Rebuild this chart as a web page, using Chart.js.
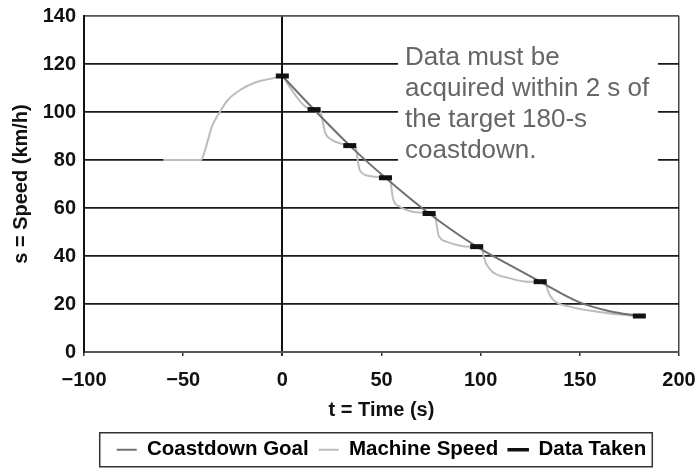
<!DOCTYPE html>
<html>
<head>
<meta charset="utf-8">
<title>Coastdown</title>
<script src="https://cdn.jsdelivr.net/npm/chart.js@4.4.1/dist/chart.umd.min.js"></script>
<style>
  html, body { margin: 0; padding: 0; background: #fff; }
  #wrap { width: 698px; height: 470px; }
</style>
</head>
<body>
<div id="wrap"><canvas id="coastChart" width="698" height="470"></canvas></div>
<script>
// values
const goalTime = [0, 16, 34, 52, 74, 98, 114, 130, 149, 165, 180];
const goalSpeed = [115, 101, 86, 72.6, 57.7, 43.9, 36.5, 29.3, 21, 17, 15];

const machineTime = [-60, -41, -39, -35.5, -31.5, -27.5, -21, -13, -5, 0,
    3, 7, 10.5, 13, 16, 19, 20, 21.5, 25, 30, 34, 37, 38, 39, 44, 52,
    54.3, 55.8, 59.3, 66, 71, 74, 77, 77.8, 78.8, 83, 89.7, 94.7, 98,
    100.7, 101.5, 104.8, 108.3, 113.3, 123.4, 130, 133, 133.7, 136.5, 145,
    158.7, 170.3, 175.3, 180];
const machineSpeed = [80, 80, 84, 94, 100, 105, 109.3, 112.5, 114, 115,
    111.3, 106.5, 103, 101.5, 101, 100.8, 97.5, 91.7, 88.4, 86.7, 86, 85.5, 80, 75.8, 73.3, 72.6,
    71.7, 64, 60.5, 58.4, 58, 57.7, 57.5, 53, 48.6, 45.9, 44.3, 43.9, 43.9,
    43.6, 39.7, 34.3, 32.2, 31, 29.3, 29.3, 28.9, 26, 21.8, 18.9,
    16.8, 15.6, 15.2, 15];

const takenTime = [0, 16, 34, 52, 74, 98, 130, 180];
const takenSpeed = [115, 101, 86, 72.6, 57.7, 43.9, 29.3, 15];

const seriesNames = ['Coastdown Goal', 'Machine Speed', 'Data Taken'];
const xTicks = [-100, -50, 0, 50, 100, 150, 200];
const yTicks = [0, 20, 40, 60, 80, 100, 120, 140];
const noteLines = ['Data must be', 'acquired within 2 s of', 'the target 180-s', 'coastdown.'];

const pairUp = (xs, ys) => xs.map((x, i) => ({ x: x, y: ys[i] }));
const boldFont = { family: '"Liberation Sans", Arial, sans-serif', size: 20, weight: 'bold' };

// box drawn round the legend like in the original
const legendFrame = {
    id: 'legendFrame',
    afterDraw(chart) {
        const boxes = chart.legend && chart.legend.legendHitBoxes;
        if (!boxes || !boxes.length) return;
        const first = boxes[0];
        const last = boxes[boxes.length - 1];
        const cy = first.top + first.height / 2;
        const ctx = chart.ctx;
        ctx.save();
        ctx.strokeStyle = '#333';
        ctx.lineWidth = 1.5;
        ctx.strokeRect(first.left - 17, cy - 17, last.left + last.width - first.left + 23, 34);
        ctx.restore();
    }
};

// the grey note in the upper right, on a white patch that hides the grid
const noteText = {
    id: 'noteText',
    beforeDatasetsDraw(chart) {
        const ctx = chart.ctx;
        ctx.save();
        ctx.fillStyle = '#fff';
        ctx.fillRect(398, 36, 260, 132);
        ctx.font = '26px "Liberation Sans", Arial, sans-serif';
        ctx.fillStyle = '#666';
        ctx.textAlign = 'left';
        ctx.textBaseline = 'alphabetic';
        noteLines.forEach((line, i) => ctx.fillText(line, 405, 65 + i * 31));
        ctx.restore();
    }
};

const ctx = document.getElementById('coastChart').getContext('2d');
new Chart(ctx, {
    type: 'line',
    data: {
        datasets: [{
            label: seriesNames[0],
            data: pairUp(goalTime, goalSpeed),
            borderColor: '#707070',
            borderWidth: 2,
            pointRadius: 0,
            cubicInterpolationMode: 'monotone',
            order: 1
        }, {
            label: seriesNames[1],
            data: pairUp(machineTime, machineSpeed),
            borderColor: '#bdbdbd',
            borderWidth: 2,
            pointRadius: 0,
            cubicInterpolationMode: 'monotone',
            order: 2
        }, {
            label: seriesNames[2],
            data: pairUp(takenTime, takenSpeed),
            showLine: false,
            pointStyle: 'line',
            pointRadius: 6.5,
            pointBorderWidth: 5,
            pointBorderColor: '#111',
            pointBackgroundColor: '#111',
            borderColor: '#111',
            order: 0
        }]
    },
    options: {
        responsive: false,
        animation: false,
        layout: { padding: { left: 0, right: 19, top: 16, bottom: 0 } },
        plugins: {
            tooltip: { enabled: false },
            legend: {
                position: 'bottom',
                fullSize: false,
                labels: {
                    font: { family: '"Liberation Sans", Arial, sans-serif', size: 20.5, weight: 'bold' },
                    color: '#111',
                    boxWidth: 20,
                    boxHeight: 2,
                    padding: 10,
                    generateLabels: chart => chart.data.datasets.map((ds, i) => ({
                        text: ds.label,
                        fillStyle: ds.borderColor,
                        strokeStyle: ds.borderColor,
                        lineWidth: i === 2 ? 1.5 : 0,
                        hidden: false,
                        datasetIndex: i
                    }))
                }
            }
        },
        scales: {
            x: {
                type: 'linear',
                min: -100,
                max: 200,
                afterBuildTicks: scale => { scale.ticks = xTicks.map(v => ({ value: v })); },
                afterFit: scale => {
                    scale.height = 77.5;
                    scale.paddingLeft = 0;
                    scale.paddingRight = 0;
                },
                ticks: {
                    font: boldFont,
                    color: '#111',
                    padding: 12,
                    callback: v => v < 0 ? '\u2212' + Math.abs(v) : String(v)
                },
                grid: {
                    color: c => c.tick && c.tick.value === 0 ? '#111' : (c.tick && c.tick.value === 200 ? '#444' : 'rgba(0,0,0,0)'),
                    lineWidth: c => c.tick && c.tick.value === 0 ? 2 : 1.5,
                    tickColor: '#333',
                    tickLength: 4
                },
                border: { color: '#555', width: 2 },
                title: {
                    display: true,
                    text: 't = Time (s)',
                    font: boldFont,
                    color: '#111',
                    padding: { top: 0, bottom: 7 }
                }
            },
            y: {
                min: 0,
                max: 140,
                afterBuildTicks: scale => { scale.ticks = yTicks.map(v => ({ value: v })); },
                afterFit: scale => {
                    scale.width = 84;
                    scale.paddingTop = 0;
                    scale.paddingBottom = 0;
                },
                ticks: { font: boldFont, color: '#111', padding: 8 },
                grid: {
                    color: c => c.tick && c.tick.value === 140 ? '#555' : '#1a1a1a',
                    lineWidth: 1.8,
                    drawTicks: false
                },
                border: { color: '#111', width: 2 },
                title: {
                    display: true,
                    text: 's = Speed (km/h)',
                    font: boldFont,
                    color: '#111',
                    padding: { top: 9, bottom: 0 }
                }
            }
        }
    },
    plugins: [legendFrame, noteText]
});
</script>
</body>
</html>
